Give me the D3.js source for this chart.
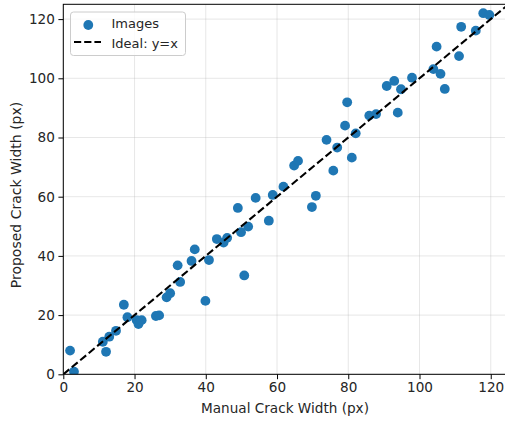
<!DOCTYPE html>
<html><head><meta charset="utf-8">
<script src="https://cdn.jsdelivr.net/npm/d3@7"></script>
<style>body{margin:0;background:#fff}svg{display:block}text{font-family:"DejaVu Sans",sans-serif;fill:#262626}</style>
</head><body>
<svg id="c" width="505" height="421"></svg>
<script>
const manual = [1.9,3.0,11.1,12.0,12.9,14.8,17.0,18.0,20.6,21.1,22.0,26.0,26.9,29.0,30.0,32.1,32.8,36.0,36.9,39.9,40.9,43.1,45.0,46.0,49.0,49.9,50.8,51.9,54.0,57.7,58.8,61.8,64.8,65.9,69.8,70.9,73.9,75.8,76.9,79.1,79.7,81.0,82.1,85.9,87.8,90.8,92.9,93.9,94.8,97.9,103.9,104.8,105.9,107.1,111.1,111.7,115.8,117.9,119.6];
const proposed = [8.0,0.9,11.0,7.6,12.7,14.7,23.5,19.3,18.3,17.0,18.3,19.7,19.9,26.0,27.4,36.8,31.2,38.3,42.2,24.8,38.6,45.7,44.5,46.1,56.2,48.0,33.4,49.9,59.6,51.9,60.6,63.4,70.5,72.1,56.5,60.3,79.2,68.8,76.6,84.0,91.9,73.2,81.4,87.4,87.9,97.4,99.1,88.4,96.3,100.2,103.1,110.7,101.5,96.4,107.5,117.4,116.1,122.0,121.4];
const xTicks = [0,20,40,60,80,100,120];
const yTicks = [0,20,40,60,80,100,120];
const domainMax = 125;

const svg = d3.select("#c");
const L = 63.3, T = 4.3, B = 374.3, R = 63.3 + 125*3.562;
const x = d3.scaleLinear().domain([0, domainMax]).range([L, R]);
const y = d3.scaleLinear().domain([0, domainMax]).range([B, T]);

svg.append("defs").append("clipPath").attr("id","clip")
  .append("rect").attr("x",L).attr("y",T).attr("width",R-L).attr("height",B-T);

// grid
const g = svg.append("g");
g.selectAll(".gx").data(xTicks).join("line")
  .attr("x1",d=>x(d)).attr("x2",d=>x(d)).attr("y1",T).attr("y2",B)
  .attr("stroke","#b0b0b0").attr("stroke-opacity",0.3).attr("stroke-width",1);
g.selectAll(".gy").data(yTicks).join("line")
  .attr("y1",d=>y(d)).attr("y2",d=>y(d)).attr("x1",L).attr("x2",R)
  .attr("stroke","#b0b0b0").attr("stroke-opacity",0.3).attr("stroke-width",1);

const plot = svg.append("g").attr("clip-path","url(#clip)");
plot.selectAll("circle").data(manual).join("circle")
  .attr("cx",(d)=>x(d)).attr("cy",(d,i)=>y(proposed[i])).attr("r",4.9)
  .attr("fill","#1f77b4");
plot.append("line")
  .attr("x1",x(0)).attr("y1",y(0)).attr("x2",x(domainMax)).attr("y2",y(domainMax))
  .attr("stroke","#000").attr("stroke-width",2.1).attr("stroke-dasharray","7.7,3.3");

// axes
const xAxis = svg.append("g").attr("transform",`translate(0,${B})`)
  .call(d3.axisBottom(x).tickValues(xTicks).tickSize(4.9).tickPadding(3.5).tickSizeOuter(0));
const yAxis = svg.append("g").attr("transform",`translate(${L},0)`)
  .call(d3.axisLeft(y).tickValues(yTicks).tickSize(4.9).tickPadding(3.5).tickSizeOuter(0));
[xAxis,yAxis].forEach(a=>{
  a.select(".domain").remove();
  a.selectAll("line").attr("stroke","#000").attr("stroke-width",1);
  a.selectAll("text").attr("font-size","13.6px").attr("font-family","DejaVu Sans").attr("fill","#262626");
});
// spines
svg.append("rect").attr("x",L).attr("y",T).attr("width",R-L).attr("height",B-T)
  .attr("fill","none").attr("stroke","#000").attr("stroke-width",1);

svg.append("text").attr("x",285).attr("y",412.5).attr("text-anchor","middle")
  .attr("font-size","13.6px").text("Manual Crack Width (px)");
svg.append("text").attr("transform",`translate(20.5,195) rotate(-90)`).attr("text-anchor","middle")
  .attr("font-size","14px").text("Proposed Crack Width (px)");

// legend
const lg = svg.append("g");
lg.append("rect").attr("x",70.5).attr("y",12).attr("width",115).attr("height",43.5).attr("rx",3)
  .attr("fill","#fff").attr("fill-opacity",0.8).attr("stroke","#cccccc").attr("stroke-width",1);
lg.append("circle").attr("cx",88.3).attr("cy",25).attr("r",4.9).attr("fill","#1f77b4");
lg.append("text").attr("x",111.5).attr("y",27.5).attr("font-size","13px").text("Images");
lg.append("line").attr("x1",74).attr("x2",101).attr("y1",42).attr("y2",42)
  .attr("stroke","#000").attr("stroke-width",2.1).attr("stroke-dasharray","7.2,3");
lg.append("text").attr("x",111.5).attr("y",47.5).attr("font-size","13px").text("Ideal: y=x");
</script>
</body></html>
